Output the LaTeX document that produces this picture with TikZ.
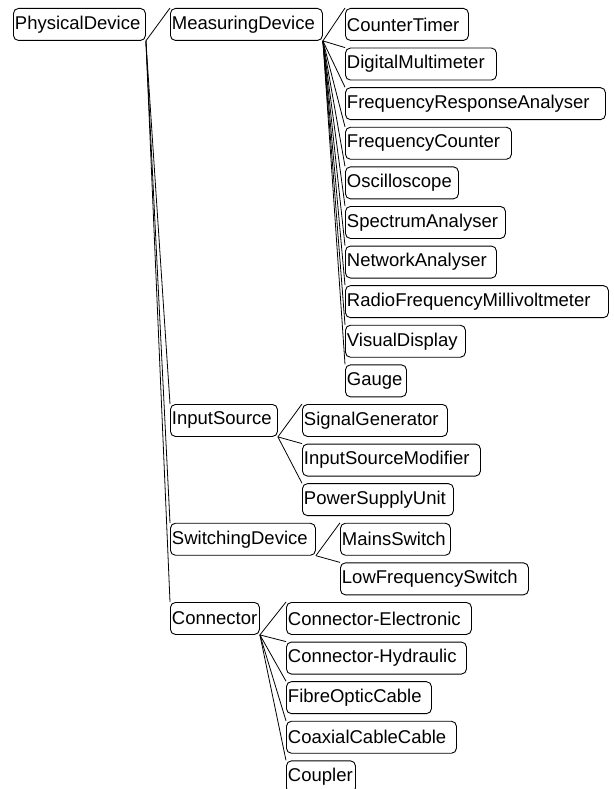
\documentclass[tikz,border=0pt]{standalone}
\usepackage{fontspec}
\setmainfont{Liberation Sans}
\begin{document}
\begin{tikzpicture}[x=1pt,y=-1pt,
  box/.style={draw=black, line width=0.9pt, rounded corners=5pt, inner xsep=1.5pt, inner ysep=0pt,
    minimum height=32pt, align=left, anchor=north west,
    font=\fontsize{18.5}{20}\selectfont},
  link/.style={draw=black, line width=0.8pt}]
\useasboundingbox (0,0) rectangle (613,789);
\newcommand\bx[5]{\pgfmathsetmacro\tw{#3-#2-3}\node[box, text width=\tw pt] (#1) at (#2,{8+39.6*#4}) {#5};}
\bx{PD}{13}{145}{0}{PhysicalDevice}
\bx{MD}{170}{322}{0}{MeasuringDevice}
\bx{CT}{345}{468}{0}{CounterTimer}
\bx{DM}{345}{496}{1}{DigitalMultimeter}
\bx{FRA}{345}{605}{2}{FrequencyResponseAnalyser}
\bx{FC}{345}{511}{3}{FrequencyCounter}
\bx{OS}{345}{458}{4}{Oscilloscope}
\bx{SA}{345}{505}{5}{SpectrumAnalyser}
\bx{NA}{345}{496}{6}{NetworkAnalyser}
\bx{RFM}{345}{608}{7}{RadioFrequencyMillivoltmeter}
\bx{VD}{345}{465}{8}{VisualDisplay}
\bx{GA}{345}{406}{9}{Gauge}
\bx{IS}{170}{277}{10}{InputSource}
\bx{SG}{302}{447}{10}{SignalGenerator}
\bx{ISM}{302}{480}{11}{InputSourceModifier}
\bx{PSU}{302}{453}{12}{PowerSupplyUnit}
\bx{SD}{170}{315}{13}{SwitchingDevice}
\bx{MS}{340}{450}{13}{MainsSwitch}
\bx{LFS}{340}{528}{14}{LowFrequencySwitch}
\bx{CO}{170}{259}{15}{Connector}
\bx{CE}{286}{471}{15}{Connector-Electronic}
\bx{CH}{286}{466}{16}{Connector-Hydraulic}
\bx{FOC}{286}{431}{17}{FibreOpticCable}
\bx{CCC}{286}{456}{18}{CoaxialCableCable}
\bx{CP}{286}{355}{19}{Coupler}
\foreach \c in {MD,IS,SD,CO} \draw[link] (PD.south east) -- (\c.north west);
\foreach \c in {CT,DM,FRA,FC,OS,SA,NA,RFM,VD,GA} \draw[link] (MD.south east) -- (\c.north west);
\foreach \c in {SG,ISM,PSU} \draw[link] (IS.south east) -- (\c.north west);
\foreach \c in {MS,LFS} \draw[link] (SD.south east) -- (\c.north west);
\foreach \c in {CE,CH,FOC,CCC,CP} \draw[link] (CO.south east) -- (\c.north west);
\end{tikzpicture}
\end{document}
